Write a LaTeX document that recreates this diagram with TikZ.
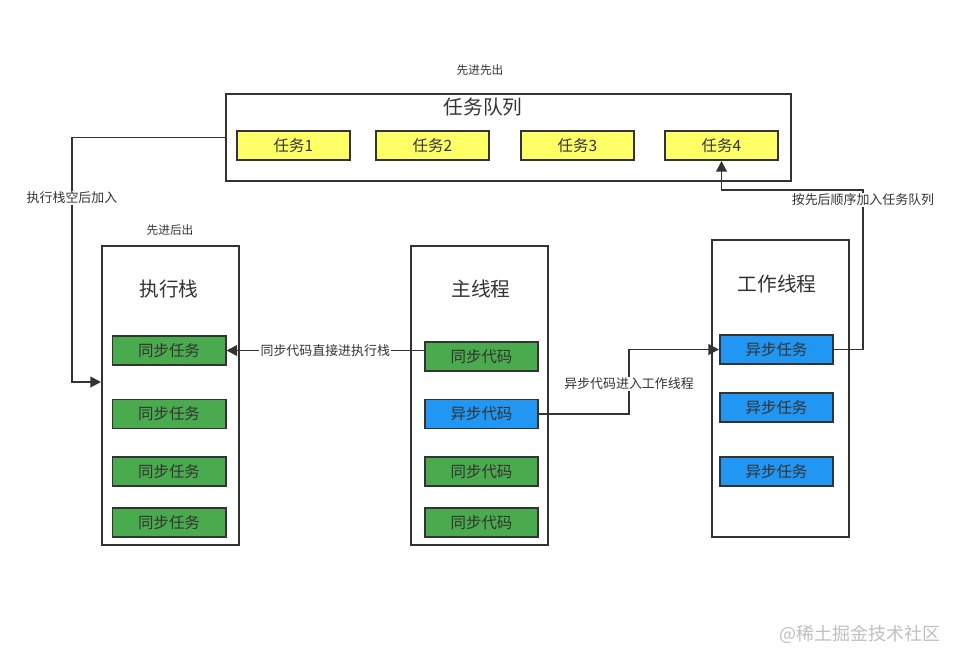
\documentclass[tikz,border=0pt]{standalone}
\usepackage{fontspec}
\setmainfont{Noto Sans CJK SC}
\usetikzlibrary{positioning, arrows.meta}

\definecolor{dk}{HTML}{333333}
\definecolor{taskyellow}{HTML}{FFFF66}
\definecolor{syncgreen}{HTML}{4AAB4E}
\definecolor{asyncblue}{HTML}{2196F3}

\begin{document}
\begin{tikzpicture}[x=0.025cm, y=-0.025cm, line width=1pt, draw=dk,
    frame/.style = {draw=dk, line width=1.4pt, minimum width=3.425cm, inner sep=0pt},
    item/.style = {draw=dk, line width=1.4pt, minimum width=2.825cm, minimum height=0.725cm,
                   inner sep=0pt, text=dk, font=\fontsize{11}{13}\selectfont},
    task/.style = {item, fill=taskyellow},
    sync/.style = {item, fill=syncgreen},
    async/.style = {item, fill=asyncblue},
    title/.style = {text=dk, font=\fontsize{14}{16}\selectfont},
    note/.style = {text=dk, font=\fontsize{8.3}{10}\selectfont},
    lbl/.style = {fill=white, text=dk, inner sep=1pt, font=\fontsize{9.2}{11}\selectfont},
    arr/.style = {-{Triangle[length=7.5pt, width=7.5pt]}, dk, line width=1.4pt}]
  \useasboundingbox[fill=white] (0,0) rectangle (959,664);

  % task queue
  \node[frame, minimum width=14.125cm, minimum height=2.175cm] (queue) at (508.5,137.5) {};
  \node[title] (qtitle) at (483,107) {任务队列};
  \node[note] (fifo) at (480,70) {先进先出};
  \node[task] (t1) at (293.5,145.5) {任务1};
  \node[task] (t2) at (432.5,145.5) {任务2};
  \node[task] (t3) at (577.5,145.5) {任务3};
  \node[task] (t4) at (721.5,145.5) {任务4};

  % execution stack
  \node[frame, minimum height=7.475cm] (stack) at (170.5,395.5) {};
  \node[title] (stitle) at (169,289) {执行栈};
  \node[note] (filo) at (170,230) {先进后出};
  \node[sync] (s1) at (169,350.5) {同步任务};
  \node[sync] (s2) at (169,414) {同步任务};
  \node[sync] (s3) at (169,471.5) {同步任务};
  \node[sync] (s4) at (169,522.5) {同步任务};

  % main thread
  \node[frame, minimum height=7.475cm] (main) at (479.5,395.5) {};
  \node[title] (mtitle) at (481,289) {主线程};
  \node[sync] (m1) at (481.5,356.5) {同步代码};
  \node[async] (m2) at (481.5,414) {异步代码};
  \node[sync] (m3) at (481.5,471.5) {同步代码};
  \node[sync] (m4) at (481.5,522.5) {同步代码};

  % worker thread
  \node[frame, minimum height=7.425cm] (worker) at (780.5,388.5) {};
  \node[title] (wtitle) at (777,284) {工作线程};
  \node[async] (w1) at (776.5,349.5) {异步任务};
  \node[async] (w2) at (776.5,407.5) {异步任务};
  \node[async] (w3) at (776.5,471.5) {异步任务};

  % connectors
  \coordinate (back) at (72,382);
  \coordinate (fork) at (629,380);
  \coordinate (up) at (863,190);

  \draw[arr] (queue.west) -| (back) -- (stack.west |- back);
  \node[lbl] at (72,198) {执行栈空后加入};

  \draw[arr] (m1.west |- s1) -- (s1.east) node[lbl, midway] {同步代码直接进执行栈};

  \draw[arr] (m2.east) -| (fork) |- (w1.west);
  \node[lbl] at (629,384) {异步代码进入工作线程};

  \draw[arr] (w1.east) -| (up) -| (t4.south);
  \node[lbl] at (863,200) {按先后顺序加入任务队列};

  \node[text=black!25, font=\fontsize{12.8}{15}\selectfont] (mark) at (860,634) {@稀土掘金技术社区};
\end{tikzpicture}
\end{document}
